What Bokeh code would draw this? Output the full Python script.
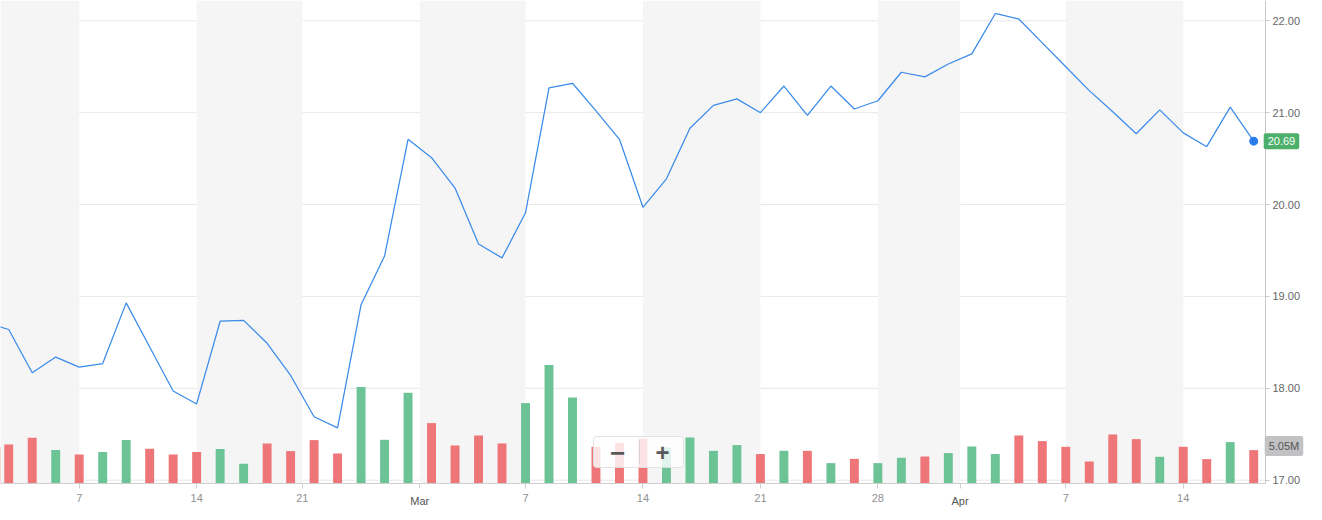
from bokeh.plotting import figure
from bokeh.models import (Range1d, FixedTicker, NumeralTickFormatter, BoxAnnotation,
                          Label, ColumnDataSource, LinearAxis)
from bokeh.embed import file_html
from bokeh.resources import INLINE

# ---------------- data ----------------
dates = [
    "2022-02-01", "2022-02-02", "2022-02-03", "2022-02-04",
    "2022-02-07", "2022-02-08", "2022-02-09", "2022-02-10", "2022-02-11",
    "2022-02-14", "2022-02-15", "2022-02-16", "2022-02-17", "2022-02-18",
    "2022-02-22", "2022-02-23", "2022-02-24", "2022-02-25", "2022-02-28",
    "2022-03-01", "2022-03-02", "2022-03-03", "2022-03-04",
    "2022-03-07", "2022-03-08", "2022-03-09", "2022-03-10", "2022-03-11",
    "2022-03-14", "2022-03-15", "2022-03-16", "2022-03-17", "2022-03-18",
    "2022-03-21", "2022-03-22", "2022-03-23", "2022-03-24", "2022-03-25",
    "2022-03-28", "2022-03-29", "2022-03-30", "2022-03-31",
    "2022-04-01", "2022-04-04", "2022-04-05", "2022-04-06", "2022-04-07",
    "2022-04-08", "2022-04-11", "2022-04-12", "2022-04-13", "2022-04-14",
    "2022-04-18", "2022-04-19", "2022-04-20",
]

close = [
    18.72, 18.64, 18.17, 18.34,
    18.23, 18.27, 18.93, 18.45, 17.97,
    17.83, 18.73, 18.74, 18.49, 18.14,
    17.69, 17.57, 18.91, 19.44, 20.71,
    20.51, 20.18, 19.57, 19.42,
    19.91, 21.27, 21.32, 21.02, 20.71,
    19.97, 20.28, 20.83, 21.08, 21.15,
    21.00, 21.29, 20.97, 21.29, 21.04,
    21.13, 21.44, 21.39, 21.53,
    21.64, 22.08, 22.02, 21.76, 21.50,
    21.24, 21.01, 20.77, 21.03, 20.78,
    20.63, 21.06, 20.69,
]

volume_m = [
    5.50, 5.90, 6.91, 5.05,
    4.38, 4.75, 6.56, 5.25, 4.38,
    4.75, 5.20, 2.98, 6.05, 4.90,
    6.56, 4.54, 14.58, 6.61, 13.71,
    9.13, 5.75, 7.26, 6.05,
    12.16, 17.90, 13.00, 5.55, 6.15,
    6.80, 5.44, 6.96, 4.94, 5.81,
    4.45, 4.94, 4.94, 3.08, 3.73,
    3.08, 3.89, 4.08, 4.60,
    5.59, 4.45, 7.26, 6.41, 5.55,
    3.33, 7.41, 6.71, 4.04, 5.55,
    3.69, 6.26, 5.05,
]

tick_dates = ["2022-02-07", "2022-02-14", "2022-02-21", "2022-03-01", "2022-03-07",
              "2022-03-14", "2022-03-21", "2022-03-28", "2022-04-01", "2022-04-07",
              "2022-04-14"]
tick_labels = ["7", "14", "21", "Mar", "7", "14", "21", "28", "Apr", "7", "14"]
month_labels = {"Mar", "Apr"}
price_ticks = [17, 18, 19, 20, 21, 22]

# ---------------- derived ----------------
idx = list(range(len(dates)))
UP, DOWN = "#6cc396", "#ee7678"
colors = [DOWN] + [UP if close[i] >= close[i - 1] else DOWN for i in range(1, len(close))]


def tick_pos(d, lab):
    if d in dates and lab not in month_labels:
        return float(dates.index(d))
    nxt = next(i for i, x in enumerate(dates) if x >= d)
    return nxt - 0.5


ticks = [tick_pos(d, l) for d, l in zip(tick_dates, tick_labels)]

# ---------------- geometry (pixels) ----------------
W, H = 1322, 520
PX_IDX = 23.49          # pixels per trading day
PX_PRICE = 91.88        # pixels per price unit
first_tick_px = 78.7
price22_px = 20.3
axis_x_px, axis_y_px = 1265, 483
VOL_PER_PX = volume_m[-1] / 33.4

x_start = ticks[0] - first_tick_px / PX_IDX
x_end = x_start + W / PX_IDX
y_end = 22 + price22_px / PX_PRICE
y_start = y_end - H / PX_PRICE
x_axis_loc = x_start + axis_x_px / PX_IDX      # where the price axis sits
y_axis_loc = y_end - axis_y_px / PX_PRICE      # where the date axis sits
vol_start = -(H - axis_y_px) * VOL_PER_PX
vol_end = axis_y_px * VOL_PER_PX


def px_to_x(px):
    return x_start + px / PX_IDX


def py_to_y(py):
    return y_end - py / PX_PRICE


src = ColumnDataSource(dict(x=idx, close=close, vol=volume_m, color=colors))

p = figure(width=W, height=H, output_backend="svg", toolbar_location=None,
           x_range=Range1d(x_start, x_end), y_range=Range1d(y_start, y_end),
           x_axis_location=None, y_axis_location=None,
           min_border_left=0, min_border_right=0, min_border_top=0, min_border_bottom=0)
p.extra_y_ranges = {"vol": Range1d(vol_start, vol_end)}
p.outline_line_color = None
p.background_fill_color = "white"
p.border_fill_color = "white"
p.xgrid.visible = False
p.ygrid.visible = False

# alternating stripes between ticks
stripe_edges = [(None, ticks[0])] + [(ticks[i], ticks[i + 1]) for i in range(1, len(ticks) - 1, 2)]
for l, r in stripe_edges:
    p.add_layout(BoxAnnotation(left=l, right=r, bottom=y_axis_loc, fill_color="#f5f5f5",
                               fill_alpha=1.0, line_color=None, level="underlay"))

# horizontal grid lines up to the price axis
p.segment(x0=[x_start] * len(price_ticks), x1=[x_axis_loc] * len(price_ticks),
          y0=price_ticks, y1=price_ticks, line_color="#e8e8e8", line_width=1,
          level="underlay")

# volume bars
p.vbar(x="x", top="vol", bottom=0, width=0.38, fill_color="color", line_color=None,
       y_range_name="vol", source=src)

# price line
p.line(x="x", y="close", source=src, line_color="#3b8bea", line_width=1.25)
p.scatter(x=[idx[-1]], y=[close[-1]], size=9, fill_color="#2b7ded", line_color=None)

# axes (fixed inside the canvas)
ya = LinearAxis(fixed_location=x_axis_loc, bounds=(y_axis_loc, y_end))
ya.ticker = FixedTicker(ticks=price_ticks)
ya.formatter = NumeralTickFormatter(format="0.00")
ya.axis_line_color = "#c9c9c9"
ya.major_tick_line_color = "#c9c9c9"
ya.major_tick_in = 0
ya.major_tick_out = 4
ya.minor_tick_line_color = None
ya.major_label_standoff = 3
ya.major_label_text_font = "Liberation Sans"
ya.major_label_text_font_size = "11px"
ya.major_label_text_color = "#666666"
p.add_layout(ya, "right")

xa = LinearAxis(fixed_location=y_axis_loc, bounds=(x_start, x_axis_loc))
xa.ticker = FixedTicker(ticks=ticks)
xa.major_label_overrides = {t: ("" if l in month_labels else l) for t, l in zip(ticks, tick_labels)}
xa.axis_line_color = "#cfcfcf"
xa.major_tick_line_color = "#cfcfcf"
xa.major_tick_in = 0
xa.major_tick_out = 5
xa.minor_tick_line_color = None
xa.major_label_standoff = 5
xa.major_label_text_font = "Liberation Sans"
xa.major_label_text_font_size = "11px"
xa.major_label_text_color = "#8f8f8f"
p.add_layout(xa, "below")

# month names in darker tone
for t, l in zip(ticks, tick_labels):
    if l in month_labels:
        p.add_layout(Label(x=t, y=py_to_y(500), text=l,
                           text_align="center", text_baseline="middle",
                           text_font="Liberation Sans", text_font_size="11px",
                           text_color="#555555"))

# last price / last volume badges
p.add_layout(Label(x=idx[-1], y=close[-1], x_offset=10, text=f"{close[-1]:.2f}",
                   text_align="left", text_baseline="middle", text_font="Liberation Sans",
                   text_font_size="11px", text_color="white",
                   background_fill_color="#4caf6a", padding=4, border_radius=2))
p.add_layout(Label(x=idx[-1], y=volume_m[-1] + 4 * VOL_PER_PX, y_range_name="vol",
                   x_offset=11, text=f"{volume_m[-1]:.2f}M", text_align="left",
                   text_baseline="middle", text_font="Liberation Sans",
                   text_font_size="11px", text_color="#555555",
                   background_fill_color="#c2c2c4", padding=4, border_radius=2))

# zoom control overlay (− | +)
p.add_layout(BoxAnnotation(left=px_to_x(593), right=px_to_x(683), bottom=py_to_y(467),
                           top=py_to_y(436), fill_color="white", fill_alpha=0.8,
                           line_color="#e0e0e0", line_alpha=0.9, border_radius=3))
p.add_layout(BoxAnnotation(left=px_to_x(638.5), right=px_to_x(639.5), bottom=py_to_y(463),
                           top=py_to_y(440), fill_color="#d0d0d0", fill_alpha=0.9,
                           line_color=None))
p.add_layout(Label(x=px_to_x(617), y=py_to_y(452), text="−", text_align="center",
                   text_baseline="middle", text_font="Liberation Sans",
                   text_font_size="26px", text_font_style="bold", text_color="#5a5a5a"))
p.add_layout(Label(x=px_to_x(662), y=py_to_y(452), text="+", text_align="center",
                   text_baseline="middle", text_font="Liberation Sans",
                   text_font_size="24px", text_font_style="bold", text_color="#5a5a5a"))

open("out.html", "w").write(file_html(p, INLINE))
